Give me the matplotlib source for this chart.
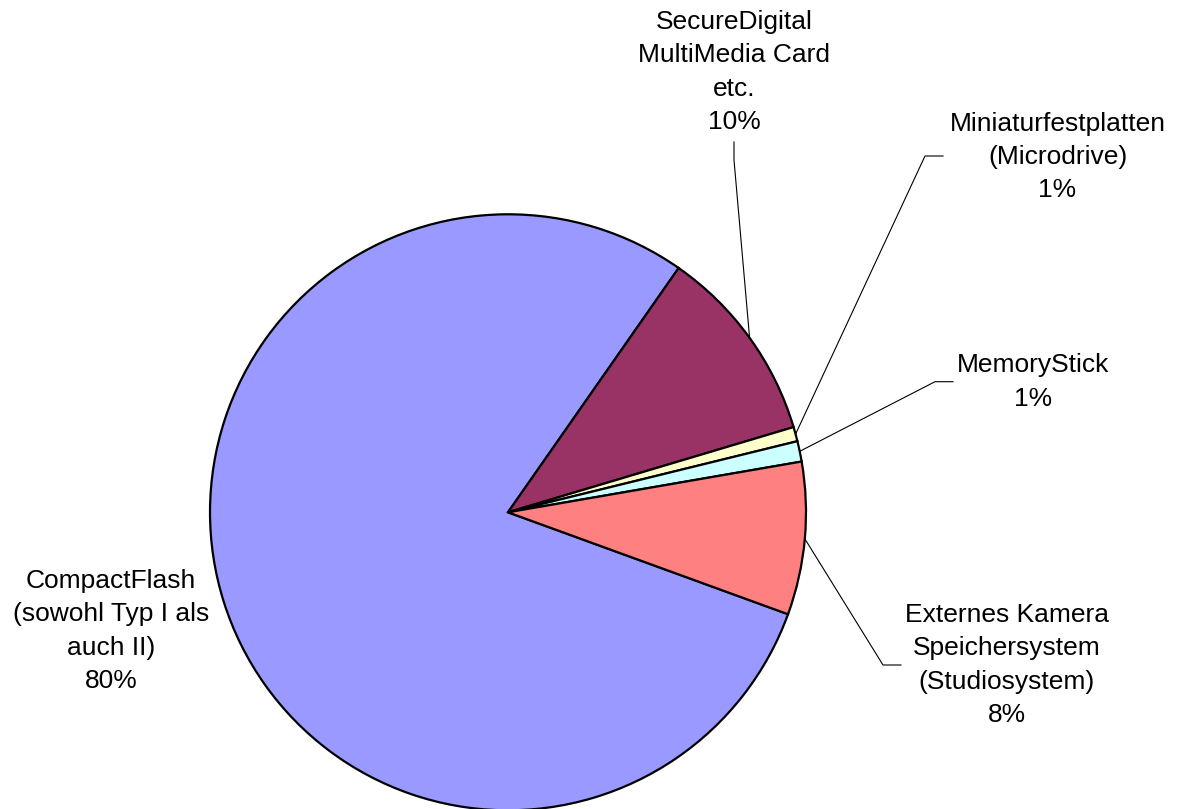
import numpy as np
import matplotlib
matplotlib.use("Agg")
import matplotlib.pyplot as plt

# slices, in drawing order (clockwise from the lower right)
names = ["CompactFlash\n(sowohl Typ I als\nauch II)",
         "SecureDigital\nMultiMedia Card\netc.",
         "Miniaturfestplatten\n(Microdrive)",
         "MemoryStick",
         "Externes Kamera\nSpeichersystem\n(Studiosystem)"]
shares = [79.15, 10.68, 0.78, 1.11, 8.28]
pct_labels = ["80%", "10%", "1%", "1%", "8%"]
colors = ["#9999FF", "#993366", "#FFFFCC", "#CCFFFF", "#FF8080"]

W, H = 1184, 809
cx, cy, R = 508, 512.3, 298   # pie centre / radius in pixels


def to_data(px, py):
    # pixel (from top left) -> data units, pie radius = 1
    return (px - cx) / R, (cy - py) / R


fig = plt.figure(figsize=(W / 100, H / 100), dpi=100)
ax = fig.add_axes([0, 0, 1, 1])

wedges, _ = ax.pie(shares, colors=colors, startangle=-20.0, counterclock=False,
                   radius=1, center=(0, 0), frame=False,
                   wedgeprops=dict(edgecolor="black", linewidth=1.6))

ax.set_xlim(to_data(0, 0)[0], to_data(W, 0)[0])
ax.set_ylim(to_data(0, H)[1], to_data(0, 0)[1])
ax.set_aspect("auto")
ax.axis("off")

# label block centres and leader stubs (pixels)
label_pos = [(111, 631), (734, 72), (1057.5, 157), (1033, 382), (1007, 665)]
stubs = [None,
         [(734, 142), (734, 160)],
         [(943, 156), (925, 156)],
         [(953, 381.7), (935, 381.7)],
         [(901, 665), (883, 665)]]

for w, name, pct, pos, stub in zip(wedges, names, pct_labels, label_pos, stubs):
    tx, ty = to_data(*pos)
    ax.text(tx, ty, name + "\n" + pct, ha="center", va="center",
            fontsize=19, family="Liberation Sans", linespacing=1.48, color="black")
    if stub is None:
        continue
    mid = np.deg2rad((w.theta1 + w.theta2) / 2)
    pts = [to_data(*p) for p in stub] + [(np.cos(mid), np.sin(mid))]
    xs, ys = zip(*pts)
    ax.plot(xs, ys, color="black", linewidth=0.8)

fig.savefig("out.png", dpi=100, facecolor="white")
